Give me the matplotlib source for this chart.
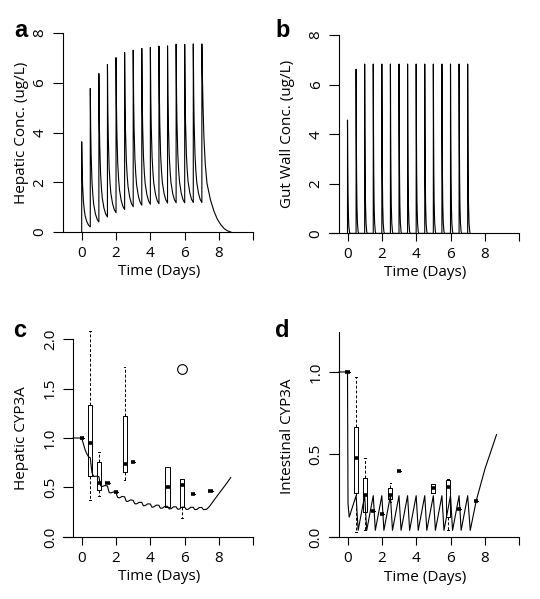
import numpy as np
import matplotlib
matplotlib.use('Agg')
import matplotlib.pyplot as plt

plt.rcParams['font.family'] = ['Open Sans', 'DejaVu Sans']
plt.rcParams['font.size'] = 10

# dosing every half day, 15 doses
dose_days = [0, 0.5, 1.0, 1.5, 2.0, 2.5, 3.0, 3.5, 4.0, 4.5, 5.0, 5.5, 6.0, 6.5, 7.0]

# a: hepatic concentration (peak at each dose, trough just before the next dose)
hep_peak = [3.63, 5.77, 6.37, 6.73, 7.01, 7.21, 7.31, 7.38, 7.42, 7.47, 7.48, 7.55, 7.54, 7.56, 7.56]
hep_trough = [0.21, 0.41, 0.61, 0.78, 0.91, 1.02, 1.08, 1.12, 1.14, 1.17, 1.18, 1.18, 1.19, 1.19]
hep_shape_dt = [0, 0.01, 0.025, 0.05, 0.1, 0.15, 0.2, 0.3, 0.4, 0.5]
hep_shape_f = [1, 0.86, 0.68, 0.5, 0.3, 0.2, 0.13, 0.06, 0.02, 0]
hep_tail_t = [7.0, 7.03, 7.07, 7.12, 7.2, 7.3, 7.5, 7.7, 7.9, 8.1, 8.3, 8.5, 8.7]
hep_tail_c = [7.56, 6.3, 5.0, 3.8, 2.7, 1.95, 1.3, 0.85, 0.52, 0.3, 0.14, 0.05, 0.0]

# b: gut wall concentration spikes
gut_peak = [4.57, 6.62, 6.83, 6.83, 6.83, 6.83, 6.83, 6.83, 6.83, 6.83, 6.83, 6.83, 6.83, 6.83, 6.83]
gut_shape_dt = [0, 0.015, 0.03, 0.05, 0.08, 0.12, 0.15]
gut_shape_f = [1, 0.6, 0.35, 0.17, 0.06, 0.01, 0]

# c: hepatic CYP3A model line
c_time = [-0.5, 0.0, 0.1, 0.2, 0.3, 0.4, 0.5,
          0.55, 0.6, 0.7, 0.85, 1.0,
          1.05, 1.1, 1.2, 1.35, 1.5,
          1.55, 1.6, 1.7, 1.85, 2.0,
          2.05, 2.1, 2.2, 2.35, 2.5,
          2.55, 2.6, 2.7, 2.85, 3.0,
          3.05, 3.1, 3.2, 3.35, 3.5,
          3.55, 3.6, 3.7, 3.85, 4.0,
          4.05, 4.1, 4.2, 4.35, 4.5,
          4.55, 4.6, 4.7, 4.85, 5.0,
          5.05, 5.1, 5.2, 5.35, 5.5,
          5.55, 5.6, 5.7, 5.85, 6.0,
          6.05, 6.1, 6.2, 6.35, 6.5,
          6.55, 6.6, 6.7, 6.85, 7.0,
          7.05, 7.1, 7.28, 7.45, 7.7, 8.0, 8.35, 8.68]
c_level = [1.0, 1.0, 0.94, 0.88, 0.84, 0.81, 0.80,
           0.72, 0.65, 0.61, 0.615, 0.61,
           0.56, 0.52, 0.51, 0.52, 0.515,
           0.48, 0.45, 0.445, 0.455, 0.45,
           0.42, 0.40, 0.395, 0.41, 0.405,
           0.38, 0.36, 0.36, 0.375, 0.37,
           0.35, 0.335, 0.335, 0.35, 0.35,
           0.33, 0.315, 0.318, 0.335, 0.333,
           0.315, 0.30, 0.305, 0.322, 0.32,
           0.30, 0.29, 0.292, 0.31, 0.31,
           0.295, 0.283, 0.285, 0.305, 0.305,
           0.29, 0.28, 0.282, 0.302, 0.302,
           0.288, 0.278, 0.28, 0.30, 0.30,
           0.286, 0.276, 0.278, 0.298, 0.298,
           0.285, 0.276, 0.28, 0.31, 0.37, 0.44, 0.52, 0.60]

# d: intestinal CYP3A model line (saw tooth)
d_time = [-0.5, 0.0, 0.03, 0.1, 0.5, 0.62, 1.0, 1.12, 1.5, 1.62, 2.0, 2.12, 2.5, 2.62,
          3.0, 3.12, 3.5, 3.62, 4.0, 4.12, 4.5, 4.62, 5.0, 5.12, 5.5, 5.62, 6.0, 6.12,
          6.5, 6.62, 7.0, 7.15, 7.5, 8.0, 8.68]
d_level = [1.0, 1.0, 0.2, 0.12, 0.25, 0.04, 0.25, 0.04, 0.25, 0.04, 0.25, 0.04, 0.25, 0.04,
           0.25, 0.04, 0.25, 0.04, 0.25, 0.04, 0.25, 0.04, 0.25, 0.04, 0.25, 0.04, 0.25, 0.04,
           0.25, 0.04, 0.25, 0.04, 0.22, 0.41, 0.62]

# observed data (box plot stats), c = hepatic, d = intestinal
c_pos = [0, 0.5, 1.0, 1.5, 2.0, 2.5, 3.0, 5.0, 5.85, 6.5, 7.5]
c_med = [1.0, 0.945, 0.55, 0.55, 0.45, 0.74, 0.76, 0.51, 0.525, 0.43, 0.46]
c_q1 = [1.0, 0.62, 0.47, 0.55, 0.45, 0.66, 0.76, 0.305, 0.305, 0.43, 0.46]
c_q3 = [1.0, 1.33, 0.76, 0.55, 0.45, 1.22, 0.76, 0.71, 0.59, 0.43, 0.46]
c_lo = [1.0, 0.37, 0.41, 0.55, 0.45, 0.575, 0.76, 0.305, 0.19, 0.43, 0.46]
c_hi = [1.0, 2.08, 0.86, 0.55, 0.45, 1.72, 0.76, 0.71, 0.59, 0.43, 0.46]
c_out = [[], [], [], [], [], [], [], [], [1.70], [], []]

d_pos = [0, 0.5, 1.0, 1.5, 2.0, 2.5, 3.0, 5.0, 5.85, 6.5, 7.5]
d_med = [1.0, 0.476, 0.256, 0.16, 0.14, 0.256, 0.40, 0.295, 0.30, 0.17, 0.22]
d_q1 = [1.0, 0.268, 0.153, 0.16, 0.14, 0.232, 0.40, 0.268, 0.12, 0.17, 0.22]
d_q3 = [1.0, 0.667, 0.36, 0.16, 0.14, 0.296, 0.40, 0.32, 0.345, 0.17, 0.22]
d_lo = [1.0, 0.03, 0.04, 0.16, 0.14, 0.21, 0.40, 0.268, 0.04, 0.17, 0.22]
d_hi = [1.0, 0.97, 0.48, 0.16, 0.14, 0.325, 0.40, 0.32, 0.35, 0.17, 0.22]
d_out = [[] for _ in d_pos]

W, H = 540, 599
fig = plt.figure(figsize=(5.4, 5.99), dpi=100)


def add_ax(left, top, width, height):
    return fig.add_axes([left / W, 1 - (top + height) / H, width / W, height / H])


def style(ax, xspine, ylim, yticks, ylabels, ytop, ylab):
    ax.set_xlim(-1.2, 10.2)
    ax.set_ylim(*ylim)
    for s in ['top', 'right']:
        ax.spines[s].set_visible(False)
    ax.spines['left'].set_position(('data', xspine))
    ax.spines['left'].set_bounds(0, ytop)
    ax.spines['bottom'].set_position(('data', 0))
    ax.spines['bottom'].set_bounds(-1.1, 10)
    for s in ['left', 'bottom']:
        ax.spines[s].set_linewidth(0.8)
    ax.set_xticks([0, 2, 4, 6, 8, 10])
    ax.set_xticklabels(['0', '2', '4', '6', '8', ''])
    ax.set_yticks(yticks)
    ax.set_yticklabels(ylabels, rotation=90, va='center')
    ax.tick_params(axis='x', length=6, width=0.8, pad=4, labelsize=11)
    ax.tick_params(axis='y', length=7, width=0.8, pad=4, labelsize=11)
    ax.set_xlabel('Time (Days)', fontsize=11)
    ax.xaxis.set_label_coords(0.5, -0.115)
    ax.set_ylabel(ylab, fontsize=11)
    ax.yaxis.set_label_coords(-0.165, 0.5)


def boxes(ax, pos, med, q1, q3, lo, hi, out):
    stats = [dict(med=m, q1=a, q3=b, whislo=l, whishi=h, fliers=f)
             for m, a, b, l, h, f in zip(med, q1, q3, lo, hi, out)]
    ax.bxp(stats, positions=pos, widths=0.24, capwidths=0.1, manage_ticks=False,
           patch_artist=False,
           boxprops=dict(color='black', lw=0.7),
           whiskerprops=dict(color='black', lw=0.7, linestyle=(0, (3, 2))),
           capprops=dict(color='black', lw=0.7),
           medianprops=dict(color='black', lw=2.6, solid_capstyle='butt'),
           flierprops=dict(marker='o', mfc='none', mec='black', ms=7, mew=0.8))


# panel a
ax = add_ax(61.1, 25.5, 195.7, 214.1)
t, c = [], []
for i in range(len(dose_days) - 1):
    t0 = dose_days[i]
    start = hep_trough[i - 1] if i else 0
    t += [t0] + [t0 + d for d in hep_shape_dt]
    c += [start] + [hep_trough[i] + (hep_peak[i] - hep_trough[i]) * f for f in hep_shape_f]
t += [dose_days[-1]] + hep_tail_t
c += [hep_trough[-1]] + hep_tail_c
ax.plot(t, c, color='black', lw=0.8)
style(ax, -1.1, (-0.3, 8.3), [0, 2, 4, 6, 8], ['0', '2', '4', '6', '8'], 8,
      'Hepatic Conc. (ug/L)')

# panel b
ax = add_ax(326.9, 27.6, 195.7, 213.2)
t, c = [], []
for i, t0 in enumerate(dose_days):
    t += [t0] + [t0 + d for d in gut_shape_dt]
    c += [0] + [gut_peak[i] * f for f in gut_shape_f]
ax.plot(t, c, color='black', lw=0.8)
style(ax, -0.5, (-0.3, 8.3), [0, 2, 4, 6, 8], ['0', '2', '4', '6', '8'], 8,
      'Gut Wall Conc. (ug/L)')

# panel c
ax = add_ax(61.1, 331.1, 195.7, 213.8)
ax.plot(c_time, c_level, color='black', lw=0.8)
boxes(ax, c_pos, c_med, c_q1, c_q3, c_lo, c_hi, c_out)
style(ax, -0.5, (-0.08, 2.08), [0, 0.5, 1.0, 1.5, 2.0],
      ['0.0', '0.5', '1.0', '1.5', '2.0'], 2, 'Hepatic CYP3A')

# panel d
ax = add_ax(326.9, 327.4, 195.7, 217.8)
ax.plot(d_time, d_level, color='black', lw=0.8)
boxes(ax, d_pos, d_med, d_q1, d_q3, d_lo, d_hi, d_out)
style(ax, -0.5, (-0.05, 1.27), [0, 0.5, 1.0], ['0.0', '0.5', '1.0'], 1.24,
      'Intestinal CYP3A')

for x, y, s in [(14, 37, 'a'), (275, 37, 'b'), (13, 337, 'c'), (275, 337, 'd')]:
    fig.text(x / W, 1 - y / H, s, fontsize=17, fontweight='bold',
             family=['Liberation Sans', 'DejaVu Sans'], ha='left', va='baseline')

fig.savefig('out.png', dpi=100)
